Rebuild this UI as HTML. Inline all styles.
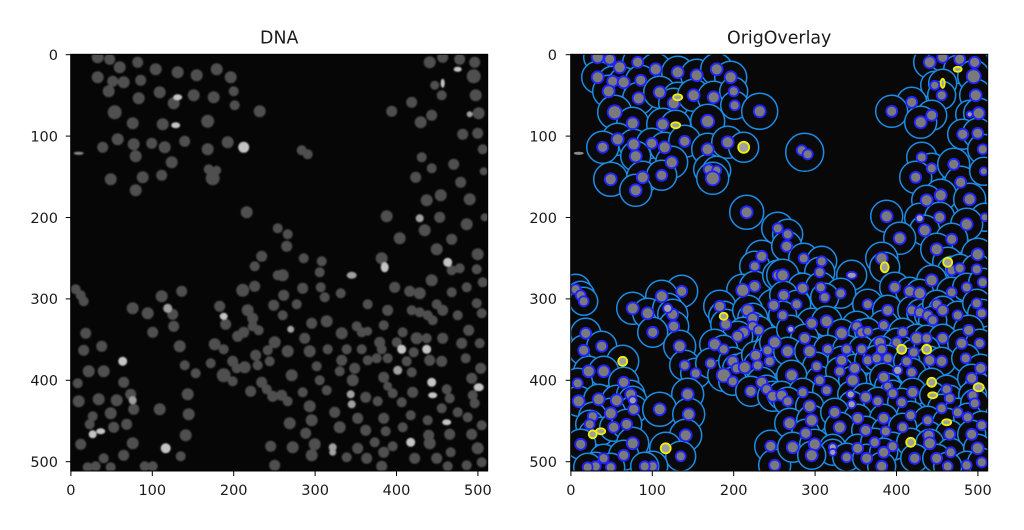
<!DOCTYPE html>
<html><head><meta charset="utf-8"><style>
html,body{margin:0;padding:0;background:#fff;}
svg{display:block;}
text{font-family:"DejaVu Sans","Liberation Sans",sans-serif;fill:#1a1a1a;}
</style></head><body>
<svg width="1024" height="530" viewBox="0 0 1024 530" xmlns="http://www.w3.org/2000/svg">
<defs>
<clipPath id="clp"><rect x="0" y="0" width="417" height="416.7"/></clipPath>
<filter id="bl" x="-5%" y="-5%" width="110%" height="110%"><feGaussianBlur stdDeviation="0.9"/></filter>
<g id="N">
<circle cx="27" cy="3" r="6"/><circle cx="39" cy="5" r="5.5"/><circle cx="49" cy="13" r="6"/><circle cx="67" cy="8" r="5.5"/><circle cx="85" cy="15" r="6"/><circle cx="107" cy="18" r="6"/><circle cx="126" cy="21" r="6"/><circle cx="146" cy="15" r="6"/><circle cx="160" cy="23" r="6"/><circle cx="27" cy="23" r="6"/><circle cx="42" cy="27" r="5.5"/><circle cx="53" cy="28" r="6"/><circle cx="70" cy="26" r="5.5"/><circle cx="38" cy="37" r="6"/><circle cx="68" cy="44" r="6"/><circle cx="89" cy="38" r="6"/><circle cx="103" cy="49" r="6"/><circle cx="123" cy="41" r="6"/><circle cx="143" cy="43" r="6"/><circle cx="163" cy="37" r="5"/><circle cx="164" cy="51" r="5"/><circle cx="44" cy="58" r="7"/><circle cx="62" cy="69" r="6"/><circle cx="92" cy="70" r="6"/><circle cx="137" cy="67" r="6.5"/><circle cx="189" cy="57" r="6"/><circle cx="47" cy="85" r="6"/><circle cx="32" cy="93" r="5.5"/><circle cx="63" cy="90" r="6"/><circle cx="81" cy="89" r="5.5"/><circle cx="94" cy="93" r="6"/><circle cx="114" cy="87" r="5.5"/><circle cx="137" cy="95" r="6"/><circle cx="157" cy="88" r="6"/><circle cx="65" cy="102" r="6"/><circle cx="101" cy="108" r="6"/><circle cx="138" cy="115" r="5"/><circle cx="146" cy="116" r="4.5"/><circle cx="142" cy="124" r="7"/><circle cx="40" cy="125" r="6"/><circle cx="72" cy="123" r="6"/><circle cx="91" cy="121" r="5.5"/><circle cx="65" cy="136" r="6"/>
<circle cx="176" cy="158" r="6"/><circle cx="207" cy="174" r="5"/><circle cx="191" cy="202" r="5.5"/><circle cx="184" cy="212" r="5"/><circle cx="172" cy="236" r="6.5"/><circle cx="184" cy="232" r="5.5"/><circle cx="203" cy="251" r="5.5"/><circle cx="207" cy="221" r="5"/><circle cx="111" cy="237" r="5.5"/><circle cx="91" cy="242" r="6"/><circle cx="62" cy="254" r="6"/><circle cx="77" cy="259" r="6"/><circle cx="102" cy="260" r="5.5"/><circle cx="103" cy="272" r="5.5"/><circle cx="82" cy="278" r="5.5"/><circle cx="149" cy="252" r="5.5"/><circle cx="155" cy="270" r="5.5"/><circle cx="177" cy="256" r="6"/><circle cx="182" cy="264" r="5.5"/><circle cx="182" cy="272" r="5"/><circle cx="188" cy="276" r="5"/><circle cx="173" cy="278" r="5.5"/><circle cx="167" cy="282" r="5.5"/><circle cx="5" cy="235" r="5"/><circle cx="10" cy="241" r="5"/><circle cx="13" cy="247" r="5"/><circle cx="15" cy="279" r="5.5"/>
<circle cx="13" cy="296" r="5.5"/><circle cx="31" cy="292" r="5.5"/><circle cx="18" cy="317" r="6"/><circle cx="33" cy="317" r="6"/><circle cx="53" cy="328" r="5.5"/><circle cx="7" cy="329" r="5"/><circle cx="8" cy="347" r="6"/><circle cx="28" cy="345" r="6"/><circle cx="46" cy="346" r="6"/><circle cx="60" cy="340" r="5.5"/><circle cx="63" cy="355" r="5.5"/><circle cx="40" cy="359" r="6"/><circle cx="22" cy="362" r="5"/><circle cx="19" cy="370" r="5"/><circle cx="43" cy="373" r="5.5"/><circle cx="56" cy="370" r="5.5"/><circle cx="62" cy="389" r="6"/><circle cx="10" cy="390" r="5.5"/><circle cx="33" cy="404" r="5"/><circle cx="25" cy="412" r="5"/><circle cx="17" cy="413" r="5"/><circle cx="53" cy="401" r="5.5"/><circle cx="40" cy="413" r="5"/><circle cx="109" cy="292" r="6"/><circle cx="114" cy="311" r="5"/><circle cx="125" cy="319" r="5"/><circle cx="117" cy="340" r="6"/><circle cx="89" cy="355" r="6"/><circle cx="118" cy="360" r="6"/><circle cx="115" cy="381" r="6"/><circle cx="110" cy="402" r="5"/><circle cx="82" cy="412" r="5"/><circle cx="74" cy="412" r="5"/><circle cx="144" cy="290" r="6"/><circle cx="153" cy="295" r="5"/><circle cx="140" cy="309" r="5"/><circle cx="153" cy="321" r="7"/><circle cx="162" cy="307" r="5.5"/><circle cx="166" cy="314" r="5"/><circle cx="174" cy="313" r="6"/><circle cx="162" cy="327" r="5"/><circle cx="185" cy="301" r="5.5"/><circle cx="187" cy="311" r="5"/><circle cx="197" cy="296" r="5"/><circle cx="199" cy="307" r="5"/><circle cx="204" cy="288" r="6"/><circle cx="191" cy="328" r="5.5"/><circle cx="196" cy="335" r="5"/><circle cx="180" cy="337" r="5.5"/><circle cx="202" cy="342" r="5.5"/><circle cx="200" cy="392" r="5.5"/><circle cx="204" cy="411" r="5.5"/>
<circle cx="359" cy="8" r="6"/><circle cx="372" cy="3" r="5.5"/><circle cx="389" cy="5" r="5.5"/><circle cx="404" cy="8" r="5.5"/><circle cx="403" cy="22" r="7"/><circle cx="364" cy="31" r="4.5"/><circle cx="371" cy="41" r="5"/><circle cx="405" cy="41" r="6"/><circle cx="341" cy="48" r="5.5"/><circle cx="321" cy="57" r="5.5"/><circle cx="361" cy="61" r="5.5"/><circle cx="350" cy="68" r="6"/><circle cx="408" cy="59" r="6"/><circle cx="392" cy="80" r="5.5"/><circle cx="407" cy="79" r="5.5"/><circle cx="412" cy="95" r="5"/><circle cx="231" cy="96" r="5"/><circle cx="237" cy="100" r="5"/><circle cx="351" cy="103" r="5"/><circle cx="361" cy="114" r="5"/><circle cx="383" cy="110" r="5.5"/><circle cx="345" cy="123" r="5.5"/><circle cx="390" cy="128" r="5.5"/><circle cx="370" cy="141" r="6"/><circle cx="356" cy="146" r="6"/><circle cx="399" cy="145" r="6"/><circle cx="413" cy="117" r="4"/><circle cx="414" cy="163" r="4"/><circle cx="316" cy="162" r="6"/><circle cx="369" cy="163" r="5.5"/><circle cx="354" cy="176" r="6"/><circle cx="396" cy="170" r="6"/><circle cx="329" cy="184" r="6"/><circle cx="381" cy="185" r="5.5"/><circle cx="407" cy="200" r="6"/><circle cx="366" cy="195" r="6"/><circle cx="311" cy="204" r="6"/><circle cx="217" cy="180" r="5"/><circle cx="216" cy="192" r="5.5"/><circle cx="233" cy="204" r="5"/><circle cx="251" cy="207" r="5"/>
<circle cx="212" cy="221" r="6"/><circle cx="249" cy="218" r="5"/><circle cx="381" cy="216" r="5"/><circle cx="389" cy="214" r="5"/><circle cx="361" cy="226" r="6"/><circle cx="406" cy="215" r="5"/><circle cx="232" cy="234" r="5.5"/><circle cx="250" cy="233" r="5"/><circle cx="270" cy="239" r="5"/><circle cx="324" cy="233" r="5.5"/><circle cx="339" cy="237" r="5.5"/><circle cx="349" cy="239" r="6"/><circle cx="381" cy="238" r="5"/><circle cx="396" cy="233" r="5"/><circle cx="412" cy="228" r="5"/><circle cx="213" cy="241" r="5.5"/><circle cx="226" cy="250" r="5"/><circle cx="254" cy="243" r="5"/><circle cx="297" cy="250" r="5"/><circle cx="317" cy="256" r="5.5"/><circle cx="341" cy="256" r="5"/><circle cx="349" cy="258" r="5"/><circle cx="357" cy="261" r="5"/><circle cx="366" cy="250" r="5"/><circle cx="372" cy="256" r="5.5"/><circle cx="387" cy="261" r="5"/><circle cx="406" cy="249" r="5"/><circle cx="411" cy="259" r="5"/><circle cx="212" cy="261" r="5"/><circle cx="241" cy="269" r="5.5"/><circle cx="256" cy="267" r="6"/><circle cx="286" cy="272" r="5"/><circle cx="313" cy="271" r="5"/><circle cx="332" cy="278" r="5"/><circle cx="362" cy="266" r="5"/><circle cx="398" cy="276" r="5.5"/><circle cx="234" cy="284" r="5.5"/><circle cx="271" cy="279" r="6"/><circle cx="291" cy="278" r="5"/><circle cx="297" cy="277" r="4.5"/><circle cx="309" cy="288" r="5.5"/><circle cx="326" cy="288" r="5"/><circle cx="346" cy="284" r="6"/><circle cx="356" cy="284" r="5"/><circle cx="372" cy="284" r="5.5"/><circle cx="391" cy="289" r="5.5"/><circle cx="409" cy="289" r="5"/><circle cx="217" cy="297" r="6"/><circle cx="239" cy="297" r="6"/><circle cx="257" cy="295" r="5"/><circle cx="276" cy="295" r="5"/><circle cx="291" cy="295" r="5"/><circle cx="311" cy="295" r="5"/><circle cx="343" cy="298" r="5"/><circle cx="359" cy="306" r="5.5"/><circle cx="371" cy="307" r="5.5"/><circle cx="395" cy="304" r="5"/><circle cx="246" cy="312" r="5"/><circle cx="271" cy="306" r="5.5"/><circle cx="284" cy="314" r="5.5"/><circle cx="297" cy="306" r="5"/><circle cx="306" cy="304" r="5"/><circle cx="317" cy="304" r="5"/><circle cx="336" cy="307" r="5"/><circle cx="410" cy="314" r="5.5"/><circle cx="221" cy="321" r="6"/><circle cx="249" cy="326" r="5"/><circle cx="269" cy="317" r="5"/><circle cx="282" cy="326" r="6"/><circle cx="313" cy="323" r="5.5"/><circle cx="341" cy="318" r="5"/><circle cx="376" cy="335" r="5"/><circle cx="401" cy="324" r="5.5"/><circle cx="211" cy="341" r="5.5"/><circle cx="232" cy="338" r="5"/><circle cx="256" cy="336" r="5"/><circle cx="295" cy="343" r="5.5"/><circle cx="317" cy="332" r="4.5"/><circle cx="322" cy="339" r="5"/><circle cx="342" cy="338" r="5.5"/><circle cx="379" cy="344" r="5"/><circle cx="402" cy="341" r="5"/><circle cx="217" cy="347" r="5"/><circle cx="239" cy="352" r="6"/><circle cx="307" cy="347" r="5"/><circle cx="331" cy="348" r="5"/><circle cx="371" cy="354" r="5"/><circle cx="387" cy="358" r="5"/><circle cx="404" cy="349" r="5"/><circle cx="219" cy="369" r="6"/><circle cx="241" cy="366" r="6"/><circle cx="264" cy="358" r="5.5"/><circle cx="287" cy="364" r="5.5"/><circle cx="313" cy="364" r="5.5"/><circle cx="340" cy="361" r="5"/><circle cx="357" cy="366" r="5"/><circle cx="397" cy="363" r="5"/><circle cx="411" cy="371" r="5"/><circle cx="235" cy="379" r="5.5"/><circle cx="269" cy="373" r="6"/><circle cx="295" cy="376" r="5.5"/><circle cx="315" cy="377" r="5"/><circle cx="332" cy="373" r="5"/><circle cx="358" cy="381" r="5.5"/><circle cx="379" cy="380" r="5.5"/><circle cx="401" cy="380" r="5.5"/><circle cx="222" cy="393" r="6"/><circle cx="244" cy="390" r="6"/><circle cx="287" cy="394" r="5.5"/><circle cx="304" cy="388" r="5"/><circle cx="322" cy="392" r="5"/><circle cx="359" cy="389" r="6"/><circle cx="380" cy="398" r="5"/><circle cx="407" cy="394" r="6"/><circle cx="241" cy="401" r="6"/><circle cx="276" cy="403" r="5"/><circle cx="296" cy="404" r="5.5"/><circle cx="313" cy="398" r="5.5"/><circle cx="344" cy="404" r="5.5"/><circle cx="366" cy="404" r="5.5"/><circle cx="396" cy="411" r="5"/><circle cx="377" cy="412" r="5"/><circle cx="411" cy="408" r="5"/><circle cx="311" cy="412" r="5.5"/>
</g>
<g id="BN">
<circle cx="97" cy="254" r="4.5"/><circle cx="62" cy="346" r="4"/><circle cx="399" cy="60" r="3"/><circle cx="349" cy="164" r="4"/><ellipse cx="281" cy="221" rx="5" ry="3.5"/><circle cx="220" cy="275" r="3.5"/><circle cx="327" cy="316" r="4.5"/><circle cx="280" cy="340" r="4"/><circle cx="281" cy="350" r="4"/><circle cx="262" cy="393" r="4"/><circle cx="262" cy="398" r="3.5"/>
</g>
<g id="BY">
<ellipse cx="107" cy="43" rx="4.5" ry="3"/><ellipse cx="105" cy="71" rx="4.5" ry="3"/><circle cx="173" cy="93" r="5.5"/><ellipse cx="153" cy="262" rx="4" ry="3.5"/><circle cx="52" cy="307" r="4.5"/><circle cx="22" cy="380" r="4"/><ellipse cx="30" cy="377" rx="4.5" ry="3"/><circle cx="95" cy="394" r="5"/><ellipse cx="387" cy="15" rx="4" ry="2.5"/><ellipse cx="372" cy="29" rx="2" ry="4.5"/><ellipse cx="314" cy="213" rx="4" ry="5"/><circle cx="377" cy="208" r="4.5"/><circle cx="331" cy="295" r="4.5"/><circle cx="356" cy="295" r="4.5"/><circle cx="361" cy="328" r="4.5"/><ellipse cx="408" cy="333" rx="5" ry="4"/><ellipse cx="362" cy="341" rx="4.5" ry="3"/><ellipse cx="376" cy="368" rx="4.5" ry="3"/><circle cx="340" cy="388" r="4.5"/>
</g>
</defs>

<!-- Titles -->
<text x="279.2" y="43.3" font-size="17.4" text-anchor="middle">DNA</text>
<text x="779.2" y="43.3" font-size="17.4" text-anchor="middle">OrigOverlay</text>

<!-- LEFT PANEL -->
<g transform="translate(70.7 54.3)">
<g clip-path="url(#clp)">
<rect x="0" y="0" width="417" height="416.7" fill="#060606"/>
<g filter="url(#bl)">
<use href="#N" fill="#505050"/>
<use href="#BN" fill="#a0a0a0"/>
<use href="#BY" fill="#c4c4c4"/>
<ellipse cx="8" cy="99" rx="5" ry="1.6" fill="#8a8a8a"/>
</g>
</g>
<rect x="0" y="0" width="417" height="416.7" fill="none" stroke="#000" stroke-width="1"/>
</g>

<!-- RIGHT PANEL -->
<g transform="translate(570.7 54.3)">
<g clip-path="url(#clp)">
<rect x="0" y="0" width="417" height="416.7" fill="#080808"/>
<g fill="#0a0a0a" stroke="#1c8ce6" stroke-width="1.5">
<circle cx="27" cy="3" r="14"/><circle cx="39" cy="5" r="14"/><circle cx="49" cy="13" r="15"/><circle cx="67" cy="8" r="15"/><circle cx="85" cy="15" r="16"/><circle cx="107" cy="18" r="16"/><circle cx="126" cy="21" r="16"/><circle cx="146" cy="15" r="16"/><circle cx="160" cy="23" r="16"/><circle cx="27" cy="23" r="16"/><circle cx="42" cy="27" r="15"/><circle cx="53" cy="28" r="15"/><circle cx="70" cy="26" r="15"/><circle cx="38" cy="37" r="16"/><circle cx="68" cy="44" r="16"/><circle cx="89" cy="38" r="16"/><circle cx="107" cy="43" r="15"/><circle cx="103" cy="49" r="15"/><circle cx="123" cy="41" r="16"/><circle cx="143" cy="43" r="16"/><circle cx="163" cy="37" r="14"/><circle cx="164" cy="51" r="14"/><circle cx="44" cy="58" r="17"/><circle cx="62" cy="69" r="16"/><circle cx="92" cy="70" r="16"/><circle cx="105" cy="71" r="15"/><circle cx="137" cy="67" r="17"/><circle cx="189" cy="57" r="18"/><circle cx="47" cy="85" r="16"/><circle cx="32" cy="93" r="16"/><circle cx="63" cy="90" r="15"/><circle cx="81" cy="89" r="15"/><circle cx="94" cy="93" r="15"/><circle cx="114" cy="87" r="16"/><circle cx="137" cy="95" r="16"/><circle cx="157" cy="88" r="16"/><circle cx="173" cy="93" r="15"/><circle cx="65" cy="102" r="15"/><circle cx="101" cy="108" r="16"/><circle cx="138" cy="115" r="15"/><circle cx="146" cy="116" r="14"/><circle cx="142" cy="124" r="16"/><circle cx="40" cy="125" r="17"/><circle cx="72" cy="123" r="16"/><circle cx="91" cy="121" r="15"/><circle cx="65" cy="136" r="16"/>
<circle cx="176" cy="158" r="17"/><circle cx="207" cy="174" r="16"/><circle cx="191" cy="202" r="16"/><circle cx="184" cy="212" r="15"/><circle cx="172" cy="236" r="16"/><circle cx="184" cy="232" r="15"/><circle cx="203" cy="251" r="16"/><circle cx="207" cy="221" r="15"/><circle cx="111" cy="237" r="16"/><circle cx="91" cy="242" r="16"/><circle cx="62" cy="254" r="16"/><circle cx="77" cy="259" r="15"/><circle cx="97" cy="254" r="15"/><circle cx="102" cy="260" r="15"/><circle cx="103" cy="272" r="15"/><circle cx="82" cy="278" r="15"/><circle cx="149" cy="252" r="16"/><circle cx="153" cy="262" r="15"/><circle cx="155" cy="270" r="15"/><circle cx="177" cy="256" r="15"/><circle cx="182" cy="264" r="15"/><circle cx="182" cy="272" r="14"/><circle cx="188" cy="276" r="14"/><circle cx="173" cy="278" r="15"/><circle cx="167" cy="282" r="15"/><circle cx="5" cy="235" r="15"/><circle cx="10" cy="241" r="14"/><circle cx="13" cy="247" r="14"/><circle cx="15" cy="279" r="15"/>
<circle cx="13" cy="296" r="15"/><circle cx="31" cy="292" r="15"/><circle cx="52" cy="307" r="16"/><circle cx="18" cy="317" r="15"/><circle cx="33" cy="317" r="15"/><circle cx="53" cy="328" r="15"/><circle cx="7" cy="329" r="15"/><circle cx="8" cy="347" r="15"/><circle cx="28" cy="345" r="15"/><circle cx="46" cy="346" r="15"/><circle cx="60" cy="340" r="14"/><circle cx="62" cy="346" r="14"/><circle cx="63" cy="355" r="14"/><circle cx="40" cy="359" r="15"/><circle cx="22" cy="362" r="14"/><circle cx="19" cy="370" r="14"/><circle cx="22" cy="380" r="14"/><circle cx="30" cy="377" r="14"/><circle cx="43" cy="373" r="14"/><circle cx="56" cy="370" r="15"/><circle cx="62" cy="389" r="16"/><circle cx="10" cy="390" r="15"/><circle cx="33" cy="404" r="14"/><circle cx="25" cy="412" r="14"/><circle cx="17" cy="413" r="14"/><circle cx="53" cy="401" r="15"/><circle cx="40" cy="413" r="14"/><circle cx="109" cy="292" r="16"/><circle cx="114" cy="311" r="15"/><circle cx="125" cy="319" r="15"/><circle cx="117" cy="340" r="16"/><circle cx="89" cy="355" r="17"/><circle cx="118" cy="360" r="16"/><circle cx="115" cy="381" r="16"/><circle cx="95" cy="394" r="16"/><circle cx="110" cy="402" r="15"/><circle cx="82" cy="412" r="15"/><circle cx="74" cy="412" r="14"/><circle cx="144" cy="290" r="15"/><circle cx="153" cy="295" r="14"/><circle cx="140" cy="309" r="15"/><circle cx="153" cy="321" r="16"/><circle cx="162" cy="307" r="14"/><circle cx="166" cy="314" r="14"/><circle cx="174" cy="313" r="15"/><circle cx="162" cy="327" r="14"/><circle cx="185" cy="301" r="14"/><circle cx="187" cy="311" r="14"/><circle cx="197" cy="296" r="14"/><circle cx="199" cy="307" r="14"/><circle cx="204" cy="288" r="15"/><circle cx="191" cy="328" r="15"/><circle cx="196" cy="335" r="14"/><circle cx="180" cy="337" r="15"/><circle cx="202" cy="342" r="15"/><circle cx="200" cy="392" r="16"/><circle cx="204" cy="411" r="16"/>
<circle cx="359" cy="8" r="16"/><circle cx="372" cy="3" r="14"/><circle cx="389" cy="5" r="14"/><circle cx="387" cy="15" r="14"/><circle cx="404" cy="8" r="14"/><circle cx="403" cy="22" r="16"/><circle cx="364" cy="31" r="14"/><circle cx="372" cy="29" r="14"/><circle cx="371" cy="41" r="14"/><circle cx="405" cy="41" r="16"/><circle cx="341" cy="48" r="15"/><circle cx="321" cy="57" r="16"/><circle cx="361" cy="61" r="15"/><circle cx="350" cy="68" r="16"/><circle cx="399" cy="60" r="14"/><circle cx="408" cy="59" r="15"/><circle cx="392" cy="80" r="15"/><circle cx="407" cy="79" r="15"/><circle cx="412" cy="95" r="15"/><circle cx="234" cy="98" r="19"/><circle cx="351" cy="103" r="15"/><circle cx="361" cy="114" r="15"/><circle cx="383" cy="110" r="16"/><circle cx="345" cy="123" r="16"/><circle cx="390" cy="128" r="16"/><circle cx="370" cy="141" r="16"/><circle cx="356" cy="146" r="15"/><circle cx="399" cy="145" r="16"/><circle cx="413" cy="117" r="14"/><circle cx="414" cy="163" r="14"/><circle cx="316" cy="162" r="16"/><circle cx="349" cy="164" r="15"/><circle cx="369" cy="163" r="15"/><circle cx="354" cy="176" r="15"/><circle cx="396" cy="170" r="16"/><circle cx="329" cy="184" r="16"/><circle cx="381" cy="185" r="16"/><circle cx="407" cy="200" r="16"/><circle cx="366" cy="195" r="16"/><circle cx="311" cy="204" r="16"/><circle cx="217" cy="180" r="15"/><circle cx="216" cy="192" r="15"/><circle cx="233" cy="204" r="15"/><circle cx="251" cy="207" r="15"/>
<circle cx="212" cy="221" r="16"/><circle cx="249" cy="218" r="15"/><circle cx="281" cy="221" r="15"/><circle cx="314" cy="213" r="15"/><circle cx="377" cy="208" r="15"/><circle cx="381" cy="216" r="14"/><circle cx="389" cy="214" r="14"/><circle cx="361" cy="226" r="15"/><circle cx="406" cy="215" r="15"/><circle cx="232" cy="234" r="15"/><circle cx="250" cy="233" r="15"/><circle cx="270" cy="239" r="15"/><circle cx="324" cy="233" r="15"/><circle cx="339" cy="237" r="14"/><circle cx="349" cy="239" r="14"/><circle cx="381" cy="238" r="15"/><circle cx="396" cy="233" r="14"/><circle cx="412" cy="228" r="14"/><circle cx="213" cy="241" r="14"/><circle cx="226" cy="250" r="14"/><circle cx="254" cy="243" r="14"/><circle cx="297" cy="250" r="15"/><circle cx="317" cy="256" r="15"/><circle cx="341" cy="256" r="14"/><circle cx="349" cy="258" r="13"/><circle cx="357" cy="261" r="13"/><circle cx="366" cy="250" r="14"/><circle cx="372" cy="256" r="14"/><circle cx="387" cy="261" r="14"/><circle cx="406" cy="249" r="14"/><circle cx="411" cy="259" r="14"/><circle cx="212" cy="261" r="14"/><circle cx="241" cy="269" r="15"/><circle cx="256" cy="267" r="15"/><circle cx="286" cy="272" r="15"/><circle cx="313" cy="271" r="15"/><circle cx="332" cy="278" r="14"/><circle cx="362" cy="266" r="14"/><circle cx="398" cy="276" r="15"/><circle cx="220" cy="275" r="14"/><circle cx="234" cy="284" r="14"/><circle cx="271" cy="279" r="14"/><circle cx="291" cy="278" r="13"/><circle cx="297" cy="277" r="13"/><circle cx="309" cy="288" r="14"/><circle cx="326" cy="288" r="14"/><circle cx="346" cy="284" r="14"/><circle cx="356" cy="284" r="13"/><circle cx="372" cy="284" r="14"/><circle cx="391" cy="289" r="14"/><circle cx="409" cy="289" r="14"/><circle cx="217" cy="297" r="14"/><circle cx="239" cy="297" r="15"/><circle cx="257" cy="295" r="14"/><circle cx="276" cy="295" r="14"/><circle cx="291" cy="295" r="13"/><circle cx="311" cy="295" r="13"/><circle cx="331" cy="295" r="13"/><circle cx="343" cy="298" r="13"/><circle cx="356" cy="295" r="13"/><circle cx="359" cy="306" r="14"/><circle cx="371" cy="307" r="14"/><circle cx="395" cy="304" r="14"/><circle cx="246" cy="312" r="14"/><circle cx="271" cy="306" r="14"/><circle cx="284" cy="314" r="14"/><circle cx="297" cy="306" r="13"/><circle cx="306" cy="304" r="13"/><circle cx="317" cy="304" r="13"/><circle cx="327" cy="316" r="13"/><circle cx="336" cy="307" r="13"/><circle cx="410" cy="314" r="14"/><circle cx="221" cy="321" r="15"/><circle cx="249" cy="326" r="14"/><circle cx="269" cy="317" r="14"/><circle cx="282" cy="326" r="14"/><circle cx="313" cy="323" r="14"/><circle cx="341" cy="318" r="14"/><circle cx="361" cy="328" r="14"/><circle cx="376" cy="335" r="14"/><circle cx="401" cy="324" r="14"/><circle cx="408" cy="333" r="14"/><circle cx="211" cy="341" r="14"/><circle cx="232" cy="338" r="14"/><circle cx="256" cy="336" r="14"/><circle cx="280" cy="340" r="13"/><circle cx="295" cy="343" r="14"/><circle cx="317" cy="332" r="13"/><circle cx="322" cy="339" r="13"/><circle cx="342" cy="338" r="14"/><circle cx="362" cy="341" r="13"/><circle cx="379" cy="344" r="13"/><circle cx="402" cy="341" r="14"/><circle cx="217" cy="347" r="14"/><circle cx="239" cy="352" r="14"/><circle cx="281" cy="350" r="13"/><circle cx="307" cy="347" r="14"/><circle cx="331" cy="348" r="14"/><circle cx="371" cy="354" r="14"/><circle cx="387" cy="358" r="14"/><circle cx="404" cy="349" r="14"/><circle cx="219" cy="369" r="15"/><circle cx="241" cy="366" r="15"/><circle cx="264" cy="358" r="14"/><circle cx="287" cy="364" r="14"/><circle cx="313" cy="364" r="14"/><circle cx="340" cy="361" r="14"/><circle cx="357" cy="366" r="14"/><circle cx="376" cy="368" r="14"/><circle cx="397" cy="363" r="14"/><circle cx="411" cy="371" r="14"/><circle cx="235" cy="379" r="14"/><circle cx="269" cy="373" r="15"/><circle cx="295" cy="376" r="14"/><circle cx="315" cy="377" r="14"/><circle cx="332" cy="373" r="14"/><circle cx="358" cy="381" r="14"/><circle cx="379" cy="380" r="14"/><circle cx="401" cy="380" r="14"/><circle cx="222" cy="393" r="15"/><circle cx="244" cy="390" r="15"/><circle cx="262" cy="393" r="13"/><circle cx="262" cy="398" r="13"/><circle cx="287" cy="394" r="14"/><circle cx="304" cy="388" r="14"/><circle cx="322" cy="392" r="14"/><circle cx="340" cy="388" r="14"/><circle cx="359" cy="389" r="14"/><circle cx="380" cy="398" r="14"/><circle cx="407" cy="394" r="14"/><circle cx="241" cy="401" r="14"/><circle cx="276" cy="403" r="14"/><circle cx="296" cy="404" r="14"/><circle cx="313" cy="398" r="14"/><circle cx="344" cy="404" r="14"/><circle cx="366" cy="404" r="14"/><circle cx="396" cy="411" r="14"/><circle cx="377" cy="412" r="14"/><circle cx="411" cy="408" r="14"/><circle cx="311" cy="412" r="14"/>
</g>
<ellipse cx="8" cy="99" rx="5" ry="1.6" fill="#8a8a8a"/>
<use href="#N" fill="#7a7a7a" stroke="#2222ff" stroke-width="1.8"/>
<use href="#BN" fill="#a0a0a0" stroke="#2222ff" stroke-width="1.8"/>
<use href="#BY" fill="#a0a0a0" stroke="#f0f000" stroke-width="1.8"/>
</g>
<rect x="0" y="0" width="417" height="416.7" fill="none" stroke="#000" stroke-width="1"/>
</g>

<!-- Ticks -->
<g stroke="#000" stroke-width="1">
<line x1="65.7" y1="54.7" x2="70.7" y2="54.7"/><line x1="65.7" y1="136.1" x2="70.7" y2="136.1"/><line x1="65.7" y1="217.5" x2="70.7" y2="217.5"/><line x1="65.7" y1="298.9" x2="70.7" y2="298.9"/><line x1="65.7" y1="380.3" x2="70.7" y2="380.3"/><line x1="65.7" y1="461.7" x2="70.7" y2="461.7"/>
<line x1="565.7" y1="54.7" x2="570.7" y2="54.7"/><line x1="565.7" y1="136.1" x2="570.7" y2="136.1"/><line x1="565.7" y1="217.5" x2="570.7" y2="217.5"/><line x1="565.7" y1="298.9" x2="570.7" y2="298.9"/><line x1="565.7" y1="380.3" x2="570.7" y2="380.3"/><line x1="565.7" y1="461.7" x2="570.7" y2="461.7"/>
<line x1="70.9" y1="471" x2="70.9" y2="476"/><line x1="152.3" y1="471" x2="152.3" y2="476"/><line x1="233.7" y1="471" x2="233.7" y2="476"/><line x1="315.1" y1="471" x2="315.1" y2="476"/><line x1="396.5" y1="471" x2="396.5" y2="476"/><line x1="477.9" y1="471" x2="477.9" y2="476"/>
<line x1="570.9" y1="471" x2="570.9" y2="476"/><line x1="652.3" y1="471" x2="652.3" y2="476"/><line x1="733.7" y1="471" x2="733.7" y2="476"/><line x1="815.1" y1="471" x2="815.1" y2="476"/><line x1="896.5" y1="471" x2="896.5" y2="476"/><line x1="977.9" y1="471" x2="977.9" y2="476"/>
</g>

<!-- Tick labels -->
<g font-size="14.5" text-anchor="end">
<text x="58" y="60">0</text><text x="58" y="141.4">100</text><text x="58" y="222.8">200</text><text x="58" y="304.2">300</text><text x="58" y="385.6">400</text><text x="58" y="467">500</text>
<text x="557" y="60">0</text><text x="557" y="141.4">100</text><text x="557" y="222.8">200</text><text x="557" y="304.2">300</text><text x="557" y="385.6">400</text><text x="557" y="467">500</text>
</g>
<g font-size="14.5" text-anchor="middle">
<text x="70.9" y="495">0</text><text x="152.3" y="495">100</text><text x="233.7" y="495">200</text><text x="315.1" y="495">300</text><text x="396.5" y="495">400</text><text x="477.9" y="495">500</text>
<text x="570.9" y="495">0</text><text x="652.3" y="495">100</text><text x="733.7" y="495">200</text><text x="815.1" y="495">300</text><text x="896.5" y="495">400</text><text x="977.9" y="495">500</text>
</g>
</svg>
</body></html>
